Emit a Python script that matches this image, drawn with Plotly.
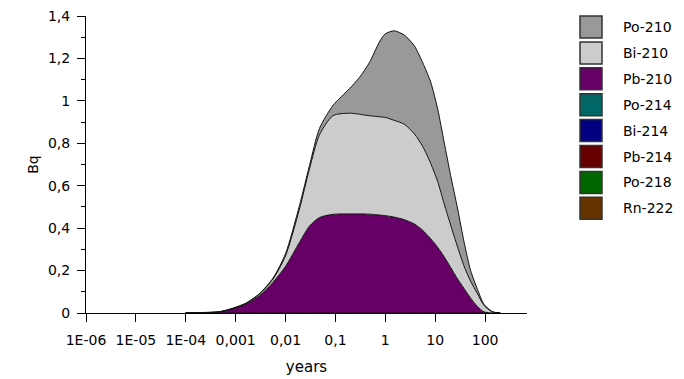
import plotly.graph_objects as go

# ---- data ----
years = [1e-4, 3.2e-4, 4.79e-4, 8.9e-4, 1.62e-3, 3.02e-3, 5.62e-3, 0.01, 0.019, 0.0302,
         0.0479, 0.0891, 0.1905, 0.302, 0.479, 0.759, 1.0, 1.51, 2.40, 3.80,
         5.62, 8.13, 11.2, 15.1, 20.4, 28.2, 38.0, 51.3, 70.8, 95.5, 141, 200]

pb210 = [0.002, 0.003, 0.006, 0.02, 0.042, 0.082, 0.145, 0.22, 0.333, 0.41,
         0.45, 0.465, 0.467, 0.467, 0.466, 0.462, 0.459, 0.452, 0.44, 0.42,
         0.39, 0.35, 0.31, 0.265, 0.215, 0.16, 0.115, 0.07, 0.03, 0.005, 0.0, 0.0]
bi210 = [0, 0, 0, 0.002, 0.003, 0.008, 0.015, 0.05, 0.157, 0.27,
         0.39, 0.465, 0.475, 0.47, 0.464, 0.463, 0.463, 0.456, 0.45, 0.425,
         0.395, 0.355, 0.31, 0.25, 0.20, 0.15, 0.105, 0.08, 0.06, 0.03, 0.005, 0]
po210 = [0, 0, 0, 0.001, 0.002, 0.002, 0.005, 0.01, 0.016, 0.015,
         0.03, 0.048, 0.115, 0.173, 0.25, 0.352, 0.394, 0.422, 0.42, 0.415,
         0.395, 0.383, 0.342, 0.29, 0.233, 0.18, 0.113, 0.05, 0.02, 0.005, 0.001, 0]
zeros = [0.0] * len(years)
po214 = zeros
bi214 = zeros
pb214 = zeros
po218 = zeros
rn222 = zeros

# stacking order bottom -> top
series_names = ["Rn-222", "Po-218", "Pb-214", "Bi-214", "Po-214", "Pb-210", "Bi-210", "Po-210"]
series_vals = [rn222, po218, pb214, bi214, po214, pb210, bi210, po210]
series_colors = ["#663300", "#006600", "#660000", "#000080", "#006666", "#660066", "#cccccc", "#999999"]

x_tickvals = [1e-6, 1e-5, 1e-4, 1e-3, 1e-2, 1e-1, 1, 10, 100]
x_ticktext = ["1E-06", "1E-05", "1E-04", "0,001", "0,01", "0,1", "1", "10", "100"]

# ---- figure (page has an 8px body margin) ----
OFF = 8
W, H = 684 - OFF, 379 - OFF
L, T = 86 - OFF, 16 - OFF
PW, PH = 441, 297
R = W - L - PW
B = H - T - PH

fig = go.Figure()
for name, vals, col in zip(series_names, series_vals, series_colors):
    fig.add_trace(go.Scatter(
        x=years, y=vals, name=name, mode="lines", stackgroup="one",
        line=dict(color="#111111", width=1, shape="spline", smoothing=0.7),
        fillcolor=col, showlegend=False, hoverinfo="x+y+name"))

fnt = "DejaVu Sans, Arial, sans-serif"

fig.update_layout(
    width=W, height=H,
    margin=dict(l=L, r=R, t=T, b=B),
    paper_bgcolor="white", plot_bgcolor="white",
    separators=", ",
    font=dict(family=fnt, size=13, color="black"),
    showlegend=False,
)
fig.update_xaxes(
    type="log", range=[-6, 2.84], automargin=False,
    tickvals=x_tickvals, ticktext=x_ticktext,
    showline=True, linecolor="black", linewidth=1,
    ticks="outside", ticklen=8, tickcolor="black",
    ticklabelstandoff=6, ticklabeloverflow="allow",
    showgrid=False, zeroline=False,
    tickfont=dict(family=fnt, size=14),
    title=dict(text="years", font=dict(family=fnt, size=15), standoff=14),
)
fig.update_yaxes(
    range=[0, 1.4], dtick=0.2, automargin=False,
    showline=True, linecolor="black", linewidth=1,
    ticks="outside", ticklen=8, tickcolor="black",
    ticklabelstandoff=4, ticklabeloverflow="allow",
    minor=dict(dtick=0.1, ticks="outside", ticklen=4, tickcolor="black"),
    showgrid=False, zeroline=False,
    tickfont=dict(family=fnt, size=14),
    title=dict(text="Bq", font=dict(family=fnt, size=14), standoff=6),
)

# ---- manual legend (top to bottom), positions given in page pixels ----
def px2x(px):
    return (px - OFF - L) / PW


def py2y(py):
    return (T + PH - (py - OFF)) / PH


legend_order = list(zip(series_names, series_colors))[::-1]
for i, (name, col) in enumerate(legend_order):
    cy = 27 + i * 25.9
    fig.add_shape(type="rect", xref="paper", yref="paper",
                  x0=px2x(580), x1=px2x(602), y0=py2y(cy + 11), y1=py2y(cy - 11),
                  fillcolor=col, line=dict(color="#333333", width=1.5))
    fig.add_annotation(xref="paper", yref="paper", x=px2x(621), y=py2y(cy),
                       text=name, showarrow=False, xanchor="left", yanchor="middle",
                       font=dict(family=fnt, size=14, color="black"))

fig.write_html("out.html")
